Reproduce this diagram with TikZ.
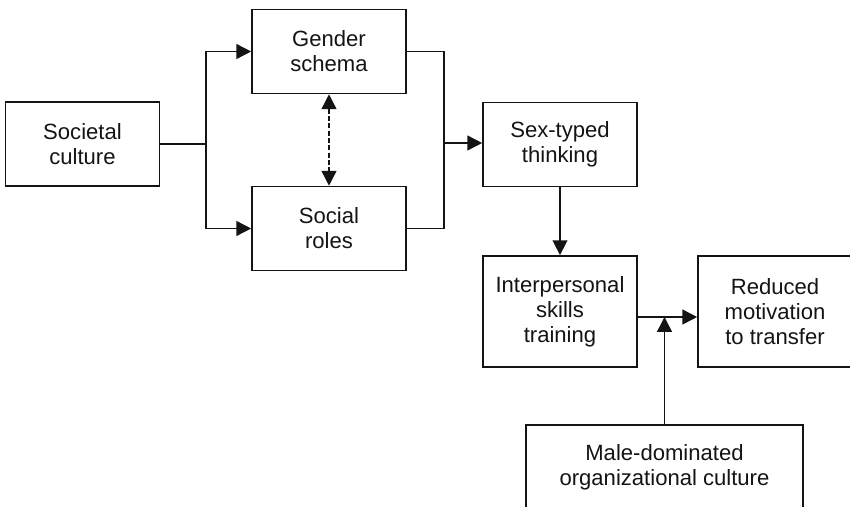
\documentclass[tikz,border=0pt]{standalone}
\usepackage{fontspec}
\setmainfont{Liberation Sans}
\usepackage{tikz}
\usetikzlibrary{
  arrows.meta,
  calc
}
\definecolor{inkgray}{RGB}{20,20,20}

\begin{document}
\begin{tikzpicture}[x=0.025cm, y=-0.025cm, line width=1.1pt,
            factorbox/.style={rectangle, draw=inkgray, text=inkgray, font=\fontsize{15.7}{17.8}\selectfont, align=center, minimum width=3.85cm, minimum height=2.1cm, inner sep=2pt},
            link/.style={draw=inkgray, -{Triangle[length=0.37cm, width=0.37cm]}}]
            \useasboundingbox (0,0) rectangle (850,507);
            \node [factorbox] (soc) at (82.5,144) {Societal\\culture};
            \node [factorbox] (gen) at (329,51.5) {Gender\\schema};
            \node [factorbox] (rol) at (329,228.5) {Social\\roles};
            \node [factorbox] (sex) at (560,144.5) {Sex-typed\\thinking};
            \node [factorbox, minimum height=2.78cm] (ist) at (560,311.5) {Interpersonal\\skills\\training};
            \node [factorbox, minimum height=2.78cm] (red) at (775,311.5) {Reduced\\motivation\\to transfer};
            \node [factorbox, minimum width=6.92cm] (mal) at (664.5,467) {Male-dominated\\organizational culture};
            \coordinate (split) at (206,144);
            \coordinate (merge) at (444,143);
            \coordinate (join) at (664.5,317);
            % societal culture splits into the two sources
            \draw [inkgray] (soc.east) -- (split);
            \draw [link] (split) |- (gen.west);
            \draw [link] (split) |- (rol.west);
            \draw [draw=inkgray, dash pattern=on 3.6pt off 1.6pt, {Triangle[length=0.37cm, width=0.37cm]}-{Triangle[length=0.37cm, width=0.37cm]}] (gen.south) -- (rol.north);
            % both feed sex-typed thinking
            \draw [inkgray] (gen.east) -| (merge);
            \draw [inkgray] (rol.east) -| (merge);
            \draw [link] (merge) -- (merge -| sex.west);
            \draw [link] (sex.south) -- (ist.north);
            \draw [link] (join -| ist.east) -- (join -| red.west);
            \draw [link] (mal.north) -- (join);
        \end{tikzpicture}
\end{document}
